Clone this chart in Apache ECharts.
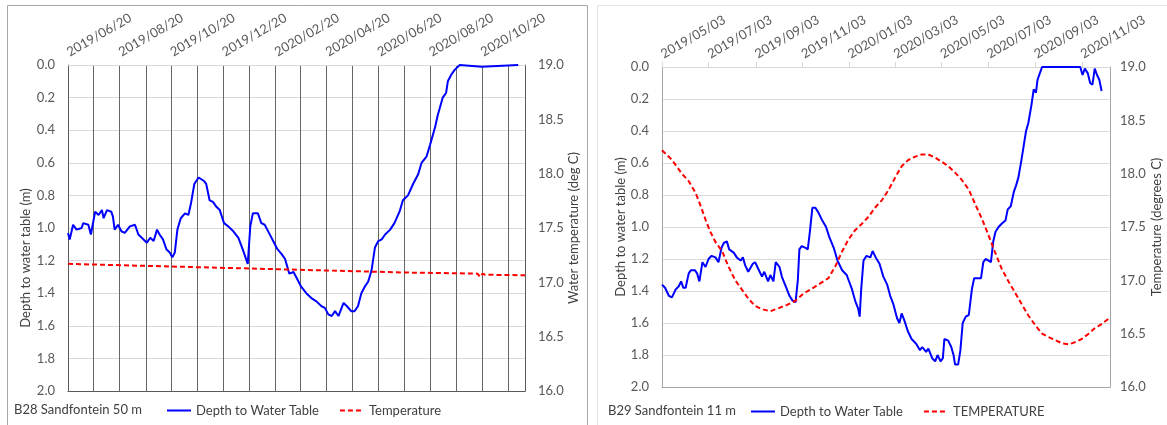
<!DOCTYPE html>
<html>
<head>
<meta charset="utf-8">
<title>Sandfontein B28 / B29</title>
<script src="https://cdn.jsdelivr.net/npm/echarts@6/dist/echarts.min.js"></script>
<style>
  html, body { margin: 0; padding: 0; background: #fff; }
  #chart { width: 1167px; height: 425px; }
</style>
</head>
<body>
<div id="chart"></div>
<script>
// B28 Sandfontein 50 m (days counted from 2019/06/20)
const b28Days = [0, 2, 6, 10, 16, 18, 24, 27, 32, 36, 40, 42, 46, 51, 53, 55, 59, 63, 67, 73, 79, 83, 87, 93, 97, 101, 105, 108, 112, 116, 120, 123, 126, 129, 133, 138, 142, 145, 149, 154, 160, 163, 167, 171, 175, 179, 184, 189, 195, 201, 206, 212, 215, 218, 220, 224, 228, 232, 237, 242, 247, 252, 256, 261, 266, 270, 275, 281, 287, 293, 299, 303, 307, 311, 315, 319, 325, 329, 334, 338, 342, 346, 350, 354, 358, 362, 366, 370, 374, 380, 385, 391, 395, 401, 407, 413, 417, 423, 427, 433, 436, 442, 446, 448, 452, 456, 462, 488, 490, 531]
const b28Depth = [1.03, 1.07, 0.98, 1.01, 1.00, 0.97, 0.98, 1.04, 0.90, 0.92, 0.89, 0.94, 0.89, 0.90, 0.93, 1.01, 0.98, 1.02, 1.03, 0.99, 0.98, 1.04, 1.06, 1.09, 1.06, 1.08, 1.01, 1.04, 1.07, 1.13, 1.15, 1.18, 1.15, 1.01, 0.94, 0.91, 0.92, 0.85, 0.73, 0.69, 0.71, 0.73, 0.83, 0.84, 0.87, 0.89, 0.97, 0.99, 1.02, 1.06, 1.13, 1.22, 0.99, 0.91, 0.90, 0.91, 0.97, 0.98, 1.03, 1.08, 1.13, 1.16, 1.19, 1.28, 1.27, 1.31, 1.36, 1.40, 1.43, 1.45, 1.48, 1.49, 1.53, 1.54, 1.51, 1.54, 1.46, 1.48, 1.51, 1.51, 1.48, 1.40, 1.36, 1.33, 1.26, 1.12, 1.08, 1.07, 1.04, 1.01, 0.97, 0.90, 0.83, 0.80, 0.73, 0.67, 0.60, 0.56, 0.49, 0.38, 0.31, 0.20, 0.17, 0.10, 0.06, 0.03, 0.00, 0.01, 0.00, 0.00]
const b28TempDays = [0, 100, 200, 300, 400, 483, 486, 489, 492, 539]
const b28Temp = [17.17, 17.15, 17.13, 17.11, 17.09, 17.08, 17.05, 17.08, 17.07, 17.065]

// B29 Sandfontein 11 m (days counted from 2019/05/03)
const b29Days = [0, 4, 9, 13, 15, 18, 22, 25, 28, 31, 35, 38, 43, 46, 49, 53, 57, 61, 65, 70, 74, 78, 81, 85, 88, 94, 98, 103, 106, 109, 113, 119, 122, 127, 131, 134, 139, 142, 146, 149, 154, 157, 162, 167, 171, 175, 178, 180, 183, 188, 191, 194, 197, 201, 205, 210, 215, 219, 225, 230, 236, 242, 249, 253, 257, 259, 261, 264, 268, 273, 276, 280, 285, 290, 295, 299, 303, 308, 311, 314, 318, 322, 327, 333, 338, 341, 346, 349, 354, 358, 361, 365, 368, 370, 375, 379, 382, 384, 388, 391, 394, 398, 402, 406, 409, 414, 418, 421, 424, 428, 431, 434, 437, 441, 445, 450, 453, 457, 461, 464, 467, 471, 474, 477, 480, 484, 487, 490, 492, 495, 498, 548, 551, 554, 558, 561, 564, 567, 570, 573, 576]
const b29Depth = [1.36, 1.38, 1.43, 1.44, 1.45, 1.39, 1.37, 1.34, 1.38, 1.38, 1.29, 1.27, 1.27, 1.29, 1.34, 1.22, 1.25, 1.20, 1.18, 1.19, 1.22, 1.13, 1.10, 1.09, 1.14, 1.16, 1.19, 1.21, 1.19, 1.24, 1.28, 1.23, 1.22, 1.27, 1.31, 1.28, 1.34, 1.30, 1.34, 1.22, 1.25, 1.31, 1.37, 1.43, 1.46, 1.47, 1.33, 1.14, 1.12, 1.13, 1.14, 1.02, 0.88, 0.88, 0.91, 0.96, 1.00, 1.06, 1.13, 1.21, 1.27, 1.30, 1.39, 1.46, 1.51, 1.56, 1.39, 1.21, 1.18, 1.19, 1.15, 1.19, 1.23, 1.31, 1.36, 1.43, 1.48, 1.57, 1.60, 1.54, 1.59, 1.65, 1.70, 1.73, 1.77, 1.75, 1.78, 1.76, 1.82, 1.84, 1.80, 1.84, 1.82, 1.70, 1.71, 1.75, 1.80, 1.86, 1.86, 1.77, 1.60, 1.56, 1.55, 1.39, 1.32, 1.32, 1.32, 1.22, 1.20, 1.21, 1.22, 1.09, 1.03, 1.00, 0.98, 0.96, 0.89, 0.87, 0.78, 0.74, 0.69, 0.58, 0.49, 0.40, 0.35, 0.24, 0.14, 0.16, 0.08, 0.04, 0.00, 0.00, 0.05, 0.01, 0.04, 0.10, 0.11, 0.01, 0.05, 0.08, 0.15]
const b29TempDays = [0, 13, 26, 35, 44, 50, 57, 63, 70, 79, 87, 96, 105, 113, 122, 131, 142, 153, 164, 175, 186, 196, 207, 218, 227, 236, 244, 253, 262, 271, 279, 288, 297, 306, 314, 323, 332, 340, 349, 358, 367, 375, 384, 393, 402, 410, 419, 428, 436, 445, 454, 463, 471, 480, 489, 498, 506, 515, 524, 533, 541, 550, 559, 567, 576, 585]
const b29Temp = [18.22, 18.13, 18.00, 17.93, 17.82, 17.71, 17.57, 17.46, 17.36, 17.27, 17.13, 17.00, 16.91, 16.83, 16.76, 16.73, 16.71, 16.74, 16.77, 16.81, 16.88, 16.92, 16.97, 17.02, 17.13, 17.27, 17.38, 17.47, 17.53, 17.60, 17.68, 17.75, 17.85, 17.97, 18.07, 18.13, 18.16, 18.18, 18.18, 18.15, 18.11, 18.07, 18.01, 17.94, 17.85, 17.72, 17.58, 17.42, 17.27, 17.11, 16.99, 16.88, 16.78, 16.67, 16.58, 16.50, 16.47, 16.44, 16.41, 16.40, 16.42, 16.45, 16.50, 16.55, 16.59, 16.64]

const DAY = 86400000
const FONT = 'Lato'
const b28Start = new Date(2019, 5, 20).getTime()
const b29Start = new Date(2019, 4, 3).getTime()
const axisEnd = new Date(2020, 11, 10).getTime()

// tick dates: same day of month, every `step` months
const monthTicks = (y, m, d, count, step) => {
  const out = []
  for (let i = 0; i < count; i++) out.push(new Date(y, m + i * step, d).getTime())
  return out
}
const b28Lines = monthTicks(2019, 5, 20, 18, 1)
const b28Labels = monthTicks(2019, 5, 20, 9, 2)
const b29Labels = monthTicks(2019, 4, 3, 10, 2)

const pad = n => String(n).padStart(2, '0')
const fmtDate = v => {
  const d = new Date(v)
  return d.getFullYear() + '/' + pad(d.getMonth() + 1) + '/' + pad(d.getDate())
}
const toPairs = (start, days, vals) => days.map((d, i) => [start + d * DAY, vals[i]])

const tickText = { color: '#595959', fontSize: 13, fontFamily: FONT }
const titleText = { color: '#404040', fontSize: 13, fontFamily: FONT }

// x axis is a plain value axis holding timestamps, ticks placed on given dates
const topAxis = (gridIndex, min, labels, ticks, extra) => Object.assign({
  type: 'value', gridIndex, position: 'top', min, max: axisEnd, scale: true,
  axisLine: { show: true, onZero: false, lineStyle: { color: '#d9d9d9' } },
  axisTick: { show: false, customValues: ticks },
  axisLabel: Object.assign({ customValues: labels, formatter: fmtDate, rotate: -30, margin: 12, showMinLabel: true }, tickText),
  splitLine: { show: false }
}, extra)

const bottomLine = (gridIndex, color) => ({
  type: 'value', gridIndex, position: 'bottom', min: 0, max: 1,
  axisLine: { show: true, onZero: false, lineStyle: { color } },
  axisTick: { show: false }, axisLabel: { show: false }, splitLine: { show: false }
})

const depthAxis = (gridIndex, gap, padding, lineColor) => ({
  type: 'value', gridIndex, position: 'left', inverse: true, min: 0, max: 2, interval: 0.2,
  name: 'Depth to water table (m)', nameLocation: 'middle', nameGap: gap,
  nameTextStyle: Object.assign({ padding }, titleText),
  axisLine: { show: true, onZero: false, lineStyle: { color: lineColor } },
  axisTick: { show: false },
  axisLabel: Object.assign({ formatter: v => v.toFixed(1), margin: 13 }, tickText),
  splitLine: { show: true, lineStyle: { color: '#d9d9d9' } }
})

const tempAxis = (gridIndex, name, gap, margin, lineColor) => ({
  type: 'value', gridIndex, position: 'right', min: 16, max: 19, interval: 0.5,
  name, nameLocation: 'middle', nameGap: gap, nameTextStyle: titleText,
  axisLine: { show: true, onZero: false, lineStyle: { color: lineColor } },
  axisTick: { show: false },
  axisLabel: Object.assign({ formatter: v => v.toFixed(1), margin }, tickText),
  splitLine: { show: false }
})

const depthLine = (name, xi, yi, data) => ({
  name, type: 'line', xAxisIndex: xi, yAxisIndex: yi, data,
  symbol: 'none', lineStyle: { color: '#0000ff', width: 2 }, itemStyle: { color: '#0000ff' }
})
const tempLine = (name, xi, yi, data) => ({
  name, type: 'line', xAxisIndex: xi, yAxisIndex: yi, data,
  symbol: 'none', lineStyle: { color: '#ff0000', width: 2, type: [5, 3] }, itemStyle: { color: '#ff0000' }
})

// legend shows only the line sample, no marker
const legendBase = {
  orient: 'horizontal', itemWidth: 24, itemHeight: 10, itemGap: 20,
  itemStyle: { opacity: 0 },
  textStyle: titleText, selectedMode: false
}

const chart = echarts.init(document.getElementById('chart'))
chart.setOption({
  animation: false,
  backgroundColor: '#fff',
  grid: [
    { left: 68, top: 65, width: 457, height: 326 },
    { left: 662, top: 67, width: 448, height: 320 }
  ],
  xAxis: [
    topAxis(0, b28Start, b28Labels, b28Lines, { splitLine: { show: true, lineStyle: { color: '#666', width: 1 } } }),
    bottomLine(0, '#595959'),
    topAxis(1, b29Start, b29Labels, b29Labels, { axisTick: { show: true, customValues: b29Labels, length: 5, lineStyle: { color: '#d9d9d9' } } }),
    bottomLine(1, '#a6a6a6')
  ],
  yAxis: [
    depthAxis(0, 36, [0, 60, 0, 0], '#595959'),
    tempAxis(0, 'Water temperature (deg C)', 40, 13, '#595959'),
    depthAxis(1, 33, 0, '#a6a6a6'),
    tempAxis(1, 'Temperature (degrees C)', 40, 10, '#a6a6a6')
  ],
  legend: [
    Object.assign({ left: 161, top: 399, data: ['Depth to Water Table', 'Temperature'] }, legendBase),
    Object.assign({ left: 745, top: 400, data: ['Depth to Water Table', 'TEMPERATURE'] }, legendBase)
  ],
  graphic: [
    { type: 'rect', z: -10, silent: true, shape: { x: 7.5, y: 5.5, width: 580, height: 430 }, style: { fill: 'none', stroke: '#a6a6a6', lineWidth: 1 } },
    { type: 'rect', z: -10, silent: true, shape: { x: 597.5, y: 5.5, width: 580, height: 430 }, style: { fill: 'none', stroke: '#e3e3e3', lineWidth: 1 } },
    { type: 'text', left: 14, top: 403, style: { text: 'B28 Sandfontein 50 m', fill: '#404040', font: '13px ' + FONT } },
    { type: 'text', left: 608, top: 404, style: { text: 'B29 Sandfontein 11 m', fill: '#404040', font: '13px ' + FONT } }
  ],
  series: [
    depthLine('Depth to Water Table', 0, 0, toPairs(b28Start, b28Days, b28Depth)),
    tempLine('Temperature', 0, 1, toPairs(b28Start, b28TempDays, b28Temp)),
    depthLine('Depth to Water Table', 2, 2, toPairs(b29Start, b29Days, b29Depth)),
    tempLine('TEMPERATURE', 2, 3, toPairs(b29Start, b29TempDays, b29Temp))
  ]
})

window.addEventListener('resize', () => chart.resize())
</script>
</body>
</html>
